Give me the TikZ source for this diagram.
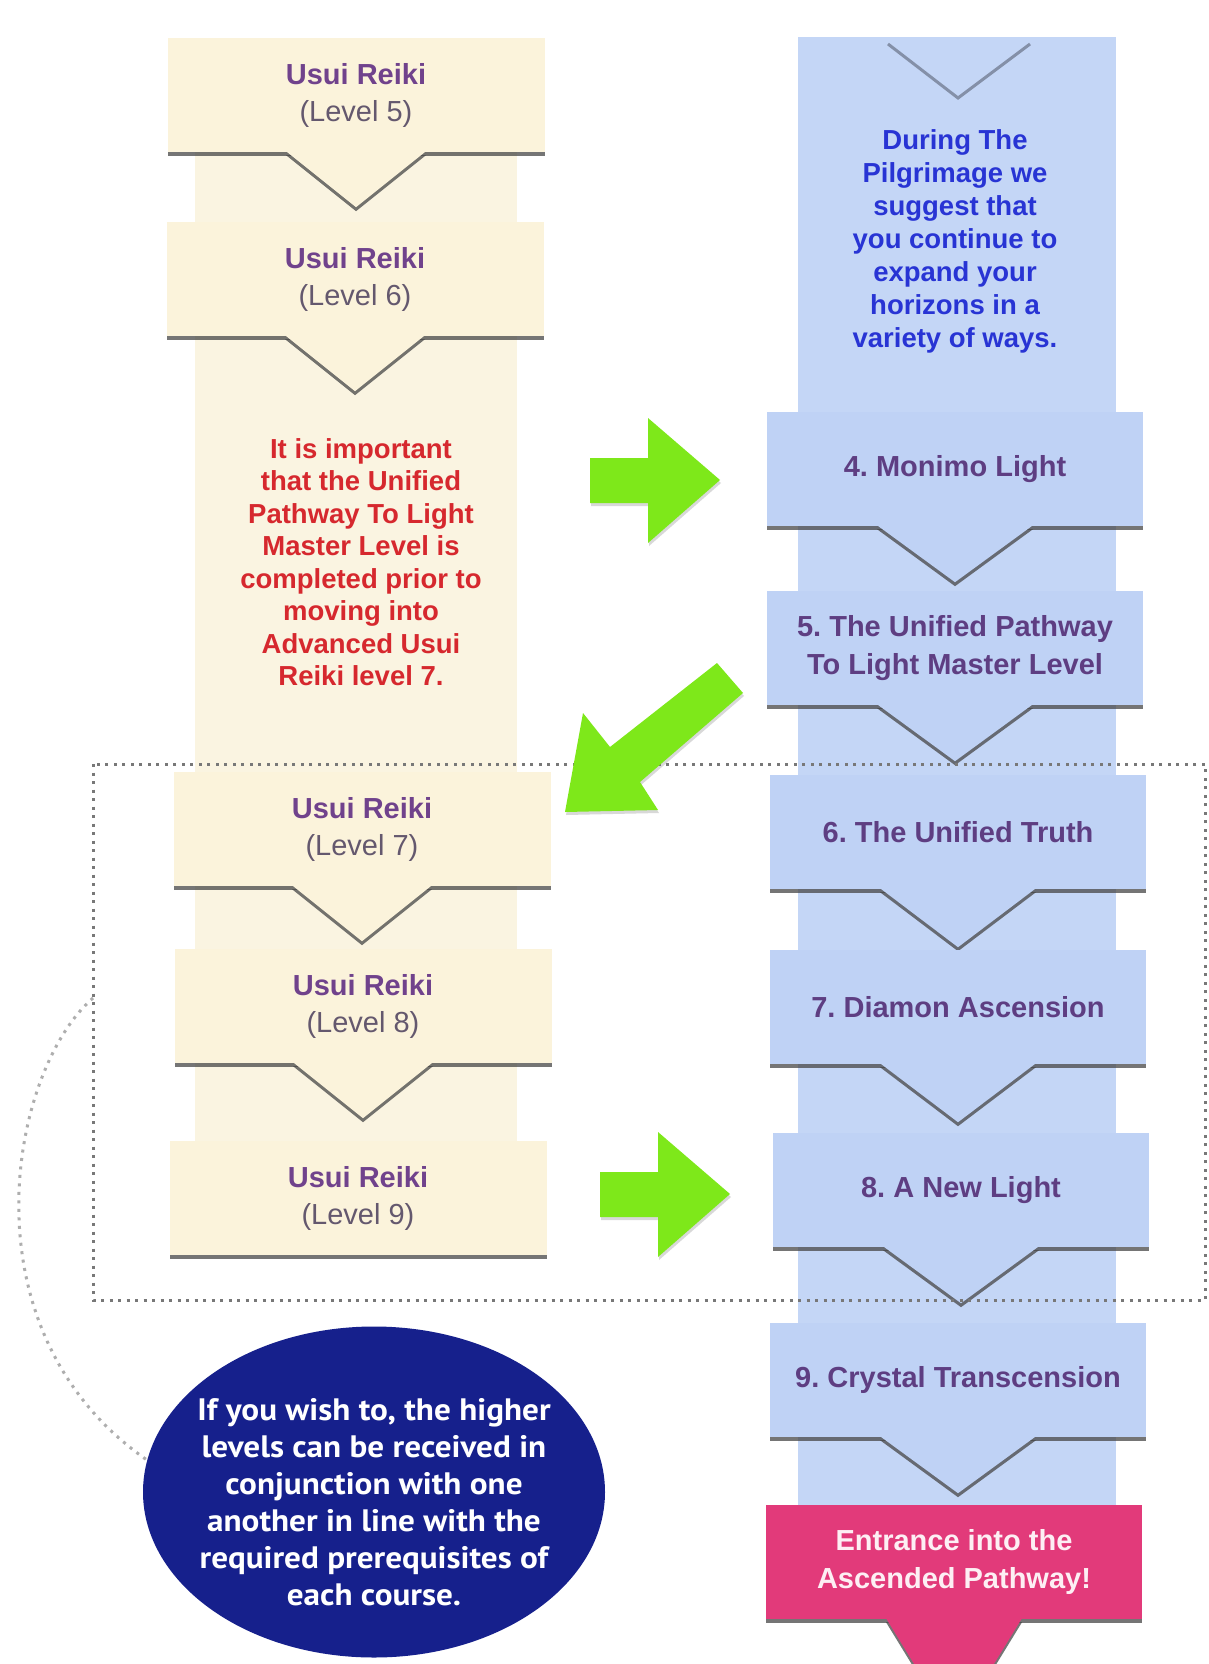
\documentclass[tikz,border=0pt]{standalone}
\usepackage{fontspec}
\setmainfont{Liberation Sans}
\newfontfamily\notefont{PT Sans}[FakeStretch=1.07]
\usepackage{tikz}
\usetikzlibrary{shapes.geometric,shadows,positioning}
\definecolor{mycream}{RGB}{251,243,219}
\definecolor{myspinecream}{RGB}{250,244,225}
\definecolor{mysky}{RGB}{191,210,245}
\definecolor{myspinesky}{RGB}{196,214,246}
\definecolor{mypink}{RGB}{226,58,122}
\definecolor{mynavy}{RGB}{22,32,140}
\definecolor{mygreen}{RGB}{126,232,26}
\definecolor{myplum}{RGB}{112,66,140}
\definecolor{mymauve}{RGB}{100,88,110}
\definecolor{myviolet}{RGB}{94,62,130}
\definecolor{myred}{RGB}{214,40,46}
\definecolor{myblue}{RGB}{40,52,212}
\definecolor{mydots}{RGB}{120,120,120}

\begin{document}
\frenchspacing
\begin{tikzpicture}[
  x=1pt, y=-1pt,
  boxshadow/.style={drop shadow={shadow xshift=0pt, shadow yshift=-4pt, opacity=.75, fill=black!72}},
  creambox/.style={
    rectangle,
    fill=mycream,
    boxshadow,
    minimum width=377pt,
    minimum height=114pt,
    inner sep=0pt,
    align=center,
    font=\fontsize{29}{37}\selectfont
    },
  creamtip/.style={fill=mycream, boxshadow},
  skybox/.style={
    rectangle,
    fill=mysky,
    boxshadow,
    minimum width=376pt,
    minimum height=114pt,
    inner sep=0pt,
    align=center,
    text=myviolet,
    font=\fontsize{29}{38}\selectfont\bfseries
    },
  skytip/.style={fill=mysky, boxshadow},
  dotline/.style={draw=mydots, line width=3pt, dash pattern=on 3pt off 5.5pt},
  greenarrow/.style={fill=mygreen, drop shadow={shadow xshift=1pt, shadow yshift=-3pt, opacity=.25, fill=black!60}}
]
\useasboundingbox (0,0) rectangle (1208,1664);
\clip (0,0) rectangle (1208,1664);
\fill[white] (0,0) rectangle (1208,1664);

% spines
\fill[myspinecream] (195,40) rectangle (517,1250);
\fill[myspinesky] (798,37) rectangle (1116,1510);
\draw[draw=black!45!mysky, line width=3pt, opacity=.7] (888,44) -- (958,98) -- (1030,44);

% left column
\node[creambox] (l5) at (356,95) {\textcolor{myplum}{\bfseries Usui Reiki}\\\textcolor{mymauve}{(Level 5)}};
\fill[creamtip] ([xshift=-70pt,yshift=1pt]l5.south) -- ([yshift=-55pt]l5.south) -- ([xshift=70pt,yshift=1pt]l5.south) -- cycle;
\node[creambox] (l6) at (355,279) {\textcolor{myplum}{\bfseries Usui Reiki}\\\textcolor{mymauve}{(Level 6)}};
\fill[creamtip] ([xshift=-70pt,yshift=1pt]l6.south) -- ([yshift=-55pt]l6.south) -- ([xshift=70pt,yshift=1pt]l6.south) -- cycle;
\node[text=myred, align=center, font=\fontsize{27.5}{32.5}\selectfont\bfseries] (warn) at (361,562)
  {It is important\\that the Unified\\Pathway To Light\\Master Level is\\completed prior to\\moving into\\Advanced Usui\\Reiki level 7.};
\node[creambox] (l7) at (362,829) {\textcolor{myplum}{\bfseries Usui Reiki}\\\textcolor{mymauve}{(Level 7)}};
\fill[creamtip] ([xshift=-70pt,yshift=1pt]l7.south) -- ([yshift=-55pt]l7.south) -- ([xshift=70pt,yshift=1pt]l7.south) -- cycle;
\node[creambox] (l8) at (363,1006) {\textcolor{myplum}{\bfseries Usui Reiki}\\\textcolor{mymauve}{(Level 8)}};
\fill[creamtip] ([xshift=-70pt,yshift=1pt]l8.south) -- ([yshift=-55pt]l8.south) -- ([xshift=70pt,yshift=1pt]l8.south) -- cycle;
\node[creambox] (l9) at (358,1198) {\textcolor{myplum}{\bfseries Usui Reiki}\\\textcolor{mymauve}{(Level 9)}};

% right column
\node[text=myblue, align=center, font=\fontsize{27.5}{33}\selectfont\bfseries] (pilgrim) at (955,241)
  {During The\\Pilgrimage we\\suggest that\\you continue to\\expand your\\horizons in a\\variety of ways.};
\node[skybox] (b4) at (955,469) {4. Monimo Light};
\fill[skytip] ([xshift=-78pt,yshift=1pt]b4.south) -- ([yshift=-56pt]b4.south) -- ([xshift=78pt,yshift=1pt]b4.south) -- cycle;
\node[skybox] (b5) at (955,648) {5. The Unified Pathway\\To Light Master Level};
\fill[skytip] ([xshift=-78pt,yshift=1pt]b5.south) -- ([yshift=-56pt]b5.south) -- ([xshift=78pt,yshift=1pt]b5.south) -- cycle;
\node[skybox] (b6) at (958,832) {6. The Unified Truth};
\fill[skytip] ([xshift=-78pt,yshift=1pt]b6.south) -- ([yshift=-58pt]b6.south) -- ([xshift=78pt,yshift=1pt]b6.south) -- cycle;
\node[skybox] (b7) at (958,1007) {7. Diamon Ascension};
\fill[skytip] ([xshift=-78pt,yshift=1pt]b7.south) -- ([yshift=-58pt]b7.south) -- ([xshift=78pt,yshift=1pt]b7.south) -- cycle;
\node[skybox] (b8) at (961,1190) {8. A New Light};
\fill[skytip] ([xshift=-78pt,yshift=1pt]b8.south) -- ([yshift=-56pt]b8.south) -- ([xshift=78pt,yshift=1pt]b8.south) -- cycle;
\node[skybox] (b9) at (958,1380) {9. Crystal Transcension};
\fill[skytip] ([xshift=-78pt,yshift=1pt]b9.south) -- ([yshift=-56pt]b9.south) -- ([xshift=78pt,yshift=1pt]b9.south) -- cycle;
\node[skybox, fill=mypink, text=white!92!mypink] (entry) at (954,1562) {Entrance into the\\Ascended Pathway!};
\fill[skytip, fill=mypink] ([xshift=-68pt,yshift=1pt]entry.south) -- ([yshift=-110pt]entry.south) -- ([xshift=68pt,yshift=1pt]entry.south) -- cycle;

% dotted group
\coordinate (grpnw) at (93,764);
\coordinate (grpse) at (1205,1300);
\coordinate (grpjoin) at (93,998);
\draw[dotline] (grpnw) rectangle (grpse);

% green arrows
\fill[greenarrow] (590,458) -- (648,458) -- (648,418) -- (720,480) -- (648,543) -- (648,503) -- (590,503) -- cycle;
\fill[greenarrow] (717,663) -- (743,693) -- (640,782) -- (658,810) -- (565,812) -- (583,713) -- (610,747) -- cycle;
\fill[greenarrow] (600,1172) -- (658,1172) -- (658,1132) -- (730,1194) -- (658,1257) -- (658,1217) -- (600,1217) -- cycle;

% note
\node[ellipse, fill=mynavy, minimum width=462pt, minimum height=331pt, inner sep=0pt] (note) at (374,1492) {};
\node[text=white, align=center, font=\notefont\fontsize{31}{37}\selectfont\bfseries] (notetext) at ([yshift=-10pt]note.center)
  {If you wish to, the higher\\levels can be received in\\conjunction with one\\another in line with the\\required prerequisites of\\each course.};
\draw[dotline, draw=mydots!60] (grpjoin) .. controls (10,1070) and (-40,1330) .. (note.172);

\end{tikzpicture}
\end{document}
